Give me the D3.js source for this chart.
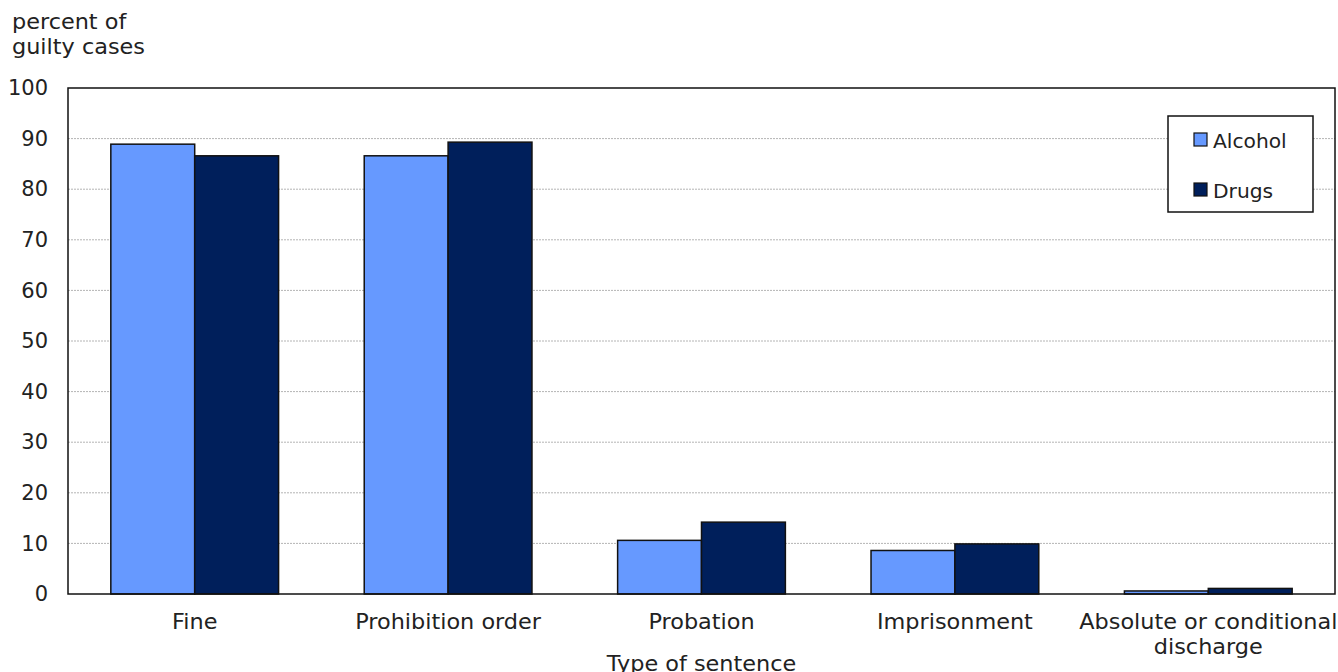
<!DOCTYPE html>
<html>
<head>
<meta charset="utf-8">
<script src="https://cdn.jsdelivr.net/npm/d3@7"></script>
<style>
  html, body { margin: 0; padding: 0; background: #fff; }
  svg { display: block; }
  text { font-family: "DejaVu Sans", Verdana, sans-serif; fill: #222; }
</style>
</head>
<body>
<svg id="chart" width="1338" height="672"></svg>
<script>
// Sentence types and share of guilty cases (percent)
const categories = [
  ["Fine"],
  ["Prohibition order"],
  ["Probation"],
  ["Imprisonment"],
  ["Absolute or conditional", "discharge"]
];
const seriesNames = ["Alcohol", "Drugs"];
const alcohol = [88.9, 86.6, 10.6, 8.6, 0.6];
const drugs = [86.6, 89.3, 14.2, 9.9, 1.1];
const yTicks = [0, 10, 20, 30, 40, 50, 60, 70, 80, 90, 100];
const colors = ["#6699FF", "#001F5B"];

const svg = d3.select("#chart");
const m = { left: 68, right: 1335, top: 88, bottom: 594 };
const fs = 21;       // label font size
const sx = 1.065;    // slight horizontal widening of word labels

const x = d3.scaleBand()
  .domain(d3.range(categories.length))
  .range([m.left, m.right])
  .paddingInner(0.338)
  .paddingOuter(0.169);
const xs = d3.scaleBand().domain(seriesNames).range([0, x.bandwidth()]);
const y = d3.scaleLinear().domain([0, 100]).range([m.bottom, m.top]);

// Places a (possibly multi-line) label at (px, py), widened by sx
function label(parent, px, py, lines, opts = {}) {
  const t = parent.append("text")
    .attr("transform", `translate(${px},${py}) scale(${opts.sx ?? sx},1)`)
    .attr("text-anchor", opts.anchor || "start")
    .attr("font-size", opts.size || fs);
  lines.forEach((ln, j) => {
    t.append("tspan").attr("x", 0).attr("dy", j === 0 ? 0 : (opts.lh || 26)).text(ln);
  });
  return t;
}

// Gridlines
svg.append("g")
  .selectAll("line")
  .data(yTicks.filter(t => t > 0 && t < 100))
  .join("line")
  .attr("x1", m.left).attr("x2", m.right)
  .attr("y1", d => y(d)).attr("y2", d => y(d))
  .attr("stroke", "#b4b4b4")
  .attr("stroke-width", 1)
  .attr("stroke-dasharray", "2,1");

// Y axis labels
const yAxis = d3.axisLeft(y).tickValues(yTicks).tickSize(0).tickPadding(20);
svg.append("g")
  .attr("transform", `translate(${m.left},0)`)
  .call(yAxis)
  .call(g => g.select(".domain").remove())
  .call(g => g.selectAll("text")
    .attr("font-size", fs)
    .attr("font-family", "DejaVu Sans, Verdana, sans-serif")
    .attr("fill", "#222"));

// Bars
const data = [alcohol, drugs];
const groups = svg.append("g")
  .selectAll("g")
  .data(categories.map((c, i) => i))
  .join("g")
  .attr("transform", i => `translate(${x(i)},0)`);
groups.selectAll("rect")
  .data(i => seriesNames.map((s, k) => ({ s, k, v: data[k][i] })))
  .join("rect")
  .attr("x", d => xs(d.s))
  .attr("width", xs.bandwidth())
  .attr("y", d => y(d.v))
  .attr("height", d => y(0) - y(d.v))
  .attr("fill", d => colors[d.k])
  .attr("stroke", "#111")
  .attr("stroke-width", 1.5);

// Plot frame
svg.append("rect")
  .attr("x", m.left).attr("y", m.top)
  .attr("width", m.right - m.left).attr("height", m.bottom - m.top)
  .attr("fill", "none").attr("stroke", "#111").attr("stroke-width", 1.5);

// Category labels
const xl = svg.append("g");
categories.forEach((lines, i) => {
  label(xl, x(i) + x.bandwidth() / 2, 629, lines, { anchor: "middle", lh: 25 });
});

// Axis titles
label(svg, (m.left + m.right) / 2, 671, ["Type of sentence"], { anchor: "middle" });
label(svg, 12, 29, ["percent of", "guilty cases"], { lh: 25 });

// Legend
const lg = svg.append("g").attr("transform", "translate(1168,116)");
lg.append("rect")
  .attr("width", 145).attr("height", 96)
  .attr("fill", "#fff").attr("stroke", "#111").attr("stroke-width", 1.5);
seriesNames.forEach((s, k) => {
  const row = lg.append("g").attr("transform", `translate(26,${17 + k * 50})`);
  row.append("rect")
    .attr("width", 13).attr("height", 13)
    .attr("fill", colors[k]).attr("stroke", "#111").attr("stroke-width", 1.2);
  label(row, 19, 14.5, [s], { size: 19 });
});
</script>
</body>
</html>
